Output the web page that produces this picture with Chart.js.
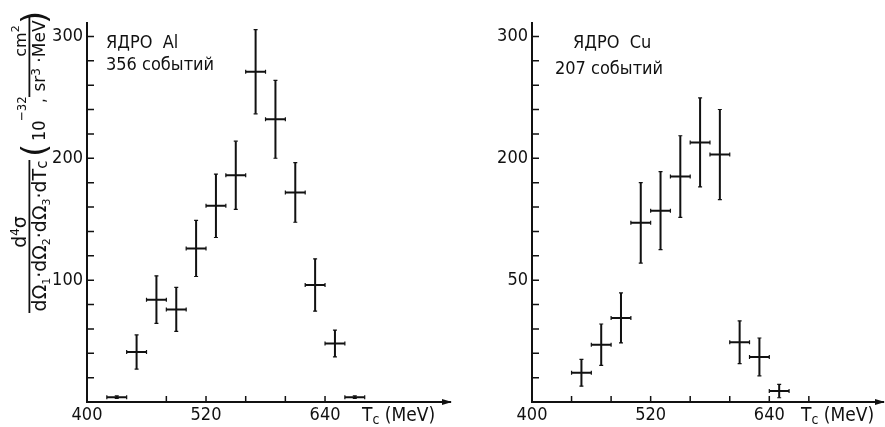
<!DOCTYPE html>
<html lang="ru">
<head>
<meta charset="UTF-8">
<title>Ядро Al / Ядро Cu</title>
<script src="https://cdn.jsdelivr.net/npm/chart.js"></script>
<style>
  body { margin: 0; background: #fff; }
  #wrap { position: relative; width: 885px; height: 427px; }
  canvas { position: absolute; top: 0; }
</style>
</head>
<body>
<div id="wrap">
  <canvas id="alChart" width="460" height="427" style="left:0"></canvas>
  <canvas id="cuChart" width="425" height="427" style="left:460px"></canvas>
</div>
<script>
// Al nucleus, 356 events
const alEnergy = [430, 450, 470, 490, 510, 530, 550, 570, 590, 610, 630, 650, 670];
const alValue  = [4, 41, 84, 76, 126, 161, 186, 271, 232, 172, 96, 48, 4];
const alError  = [1, 14, 19.5, 18, 23, 26, 28, 34.5, 32, 24.5, 21.5, 11, 1];

// Cu nucleus, 207 events
const cuEnergy = [450, 470, 490, 510, 530, 550, 570, 590, 610, 630, 650];
const cuValue  = [24, 47, 69, 147, 157, 185, 213, 203, 49, 37, 9];
const cuError  = [11, 17, 20.5, 33, 32, 33.5, 36.5, 37, 17.5, 15.5, 5.5];

const binHalfWidth = 10;

const alXTicks = [400, 480, 520, 560, 600, 640];
const cuXTicks = [400, 440, 480, 520, 560, 600, 640, 680];
const xTickLabels = { 400: '400', 520: '520', 640: '640' };
const yTicks = [0, 20, 40, 60, 80, 100, 120, 140, 160, 180, 200, 220, 240, 260, 280, 300];
const alYLabels = { 100: '100', 200: '200', 300: '300' };
const cuYLabels = { 100: '50', 200: '200', 300: '300' };

const ink = '#111';
const fontName = '"DejaVu Sans Condensed", "DejaVu Sans", sans-serif';
const wideFont = '"DejaVu Sans", sans-serif';

// draw pieces of text one after another (for sub/superscripts)
function drawRun(ctx, x, y, pieces, family) {
    family = family || fontName;
    pieces.forEach(p => {
        ctx.font = p.size + 'px ' + family;
        ctx.fillText(p.t, x, y + (p.dy || 0));
        x += ctx.measureText(p.t).width;
    });
    return x;
}
function runWidth(ctx, pieces, family) {
    family = family || fontName;
    let w = 0;
    pieces.forEach(p => { ctx.font = p.size + 'px ' + family; w += ctx.measureText(p.t).width; });
    return w;
}

function drawYTitle(ctx) {
    ctx.save();
    ctx.rotate(-Math.PI / 2);   // u = -y, v = x of the page
    ctx.textAlign = 'left';
    ctx.textBaseline = 'alphabetic';
    // d4σ / dΩ1·dΩ2·dΩ3·dTc
    let num = [{ t: 'd', size: 19 }, { t: '4', size: 12, dy: -7 }, { t: 'σ', size: 19 }];
    drawRun(ctx, -232 - runWidth(ctx, num, wideFont) / 2, 26, num, wideFont);
    let den = [{ t: 'dΩ', size: 19 }, { t: '1', size: 11, dy: 4 }, { t: '·dΩ', size: 19 }, { t: '2', size: 11, dy: 4 },
               { t: '·dΩ', size: 19 }, { t: '3', size: 11, dy: 4 }, { t: '·dT', size: 19 }, { t: 'c', size: 15, dy: 1 }];
    drawRun(ctx, -236 - runWidth(ctx, den, wideFont) / 2, 46, den, wideFont);
    ctx.fillRect(-313, 28.5, 153, 1.8);
    // (10^-32, cm2 / sr3·MeV)
    ctx.font = '34px ' + wideFont;
    ctx.fillText('(', -157, 46);
    drawRun(ctx, -141, 45, [{ t: '10', size: 18 }]);
    drawRun(ctx, -121, 26, [{ t: '−32', size: 13 }]);
    drawRun(ctx, -103, 45, [{ t: ',', size: 17 }]);
    let cm = [{ t: 'cm', size: 16 }, { t: '2', size: 11, dy: -7 }];
    drawRun(ctx, -41 - runWidth(ctx, cm, wideFont) / 2, 26, cm, wideFont);
    ctx.fillRect(-97, 28.5, 82, 1.8);
    let sr = [{ t: 'sr', size: 17 }, { t: '3', size: 12, dy: -5 }, { t: ' ·MeV', size: 17 }];
    drawRun(ctx, -56 - runWidth(ctx, sr, wideFont) / 2, 45, sr, wideFont);
    ctx.font = '34px ' + wideFont;
    ctx.fillText(')', -24, 46);
    ctx.restore();
}

const decorPlugin = {
    id: 'decor',
    afterDatasetsDraw(chart, args, opts) {
        const ctx = chart.ctx, xs = chart.scales.x, ys = chart.scales.y;
        ctx.save();
        ctx.strokeStyle = ink;
        chart.data.datasets[0].data.forEach(p => {
            const cx = xs.getPixelForValue(p.x), cy = ys.getPixelForValue(p.y);
            const x0 = xs.getPixelForValue(p.x - binHalfWidth), x1 = xs.getPixelForValue(p.x + binHalfWidth);
            const y0 = ys.getPixelForValue(p.y - p.err), y1 = ys.getPixelForValue(p.y + p.err);
            ctx.lineWidth = 2;
            ctx.beginPath();
            ctx.moveTo(cx, y0); ctx.lineTo(cx, y1);
            ctx.moveTo(x0, cy); ctx.lineTo(x1, cy);
            ctx.stroke();
            ctx.lineWidth = 1.2;
            ctx.beginPath();
            ctx.moveTo(x0, cy - 2); ctx.lineTo(x0, cy + 2);
            ctx.moveTo(x1, cy - 2); ctx.lineTo(x1, cy + 2);
            ctx.moveTo(cx - 2, y0); ctx.lineTo(cx + 2, y0);
            ctx.moveTo(cx - 2, y1); ctx.lineTo(cx + 2, y1);
            ctx.stroke();
        });
        ctx.restore();
    },
    afterDraw(chart, args, opts) {
        const ctx = chart.ctx, xs = chart.scales.x, ys = chart.scales.y, area = chart.chartArea;
        ctx.save();
        ctx.strokeStyle = ink;
        ctx.fillStyle = ink;
        ctx.lineWidth = 1.5;
        // inward tick marks
        ctx.beginPath();
        ys.ticks.forEach(t => {
            const y = ys.getPixelForValue(t.value);
            ctx.moveTo(area.left, y); ctx.lineTo(area.left + 7, y);
        });
        xs.ticks.forEach(t => {
            const x = xs.getPixelForValue(t.value);
            ctx.moveTo(x, area.bottom); ctx.lineTo(x, area.bottom - 6);
        });
        ctx.stroke();
        // arrow at the end of the x axis
        ctx.beginPath();
        ctx.moveTo(area.right + 2, area.bottom);
        ctx.lineTo(area.right - 8, area.bottom - 3);
        ctx.lineTo(area.right - 8, area.bottom + 3);
        ctx.closePath();
        ctx.fill();
        // axis name
        ctx.textAlign = 'left';
        ctx.textBaseline = 'alphabetic';
        drawRun(ctx, opts.tcX, 421, [{ t: 'T', size: 19 }, { t: 'c', size: 14, dy: 3 }, { t: ' (MeV)', size: 19 }]);
        // nucleus note
        drawRun(ctx, opts.noteX[0], 48, [{ t: opts.note[0], size: 18 }]);
        drawRun(ctx, opts.noteX[1], opts.noteY2, [{ t: opts.note[1], size: 18 }]);
        if (opts.yTitle) drawYTitle(ctx);
        ctx.restore();
    }
};

function makeChart(id, energy, value, error, xTicks, yLabels, xMax, axisWidth, padRight, note) {
    return new Chart(document.getElementById(id), {
        type: 'scatter',
        data: {
            datasets: [{
                data: energy.map((t, i) => ({ x: t, y: value[i], err: error[i] })),
                pointRadius: 0,
                showLine: false
            }]
        },
        options: {
            responsive: false,
            animation: false,
            layout: { padding: { top: 23, right: padRight, left: 0, bottom: 0 } },
            plugins: {
                legend: { display: false },
                tooltip: { enabled: false },
                decor: note
            },
            scales: {
                x: {
                    type: 'linear',
                    min: 400,
                    max: xMax,
                    afterBuildTicks: s => { s.ticks = xTicks.map(v => ({ value: v })); },
                    afterFit: s => { s.height = 25; },
                    grid: { display: false, drawTicks: false },
                    border: { display: true, color: ink, width: 2 },
                    ticks: {
                        autoSkip: false, maxRotation: 0, padding: 3, color: ink,
                        font: { family: fontName, size: 18 },
                        callback: v => xTickLabels[v] || ''
                    }
                },
                y: {
                    type: 'linear',
                    min: 0,
                    max: 311,
                    afterBuildTicks: s => { s.ticks = yTicks.map(v => ({ value: v })); },
                    afterFit: s => { s.width = axisWidth; },
                    grid: { display: false, drawTicks: false },
                    border: { display: true, color: ink, width: 2 },
                    ticks: {
                        autoSkip: false, padding: 4, color: ink,
                        font: { family: fontName, size: 18 },
                        callback: v => yLabels[v] || ''
                    }
                }
            }
        },
        plugins: [decorPlugin]
    });
}

makeChart('alChart', alEnergy, alValue, alError, alXTicks, alYLabels, 766, 87, 10,
    { tcX: 362, note: ['ЯДРО  Al', '356 событий'], noteX: [106, 106], noteY2: 70, yTitle: true });
makeChart('cuChart', cuEnergy, cuValue, cuError, cuXTicks, cuYLabels, 755, 72, 2,
    { tcX: 341, note: ['ЯДРО  Cu', '207 событий'], noteX: [113, 95], noteY2: 74, yTitle: false });
</script>
</body>
</html>
